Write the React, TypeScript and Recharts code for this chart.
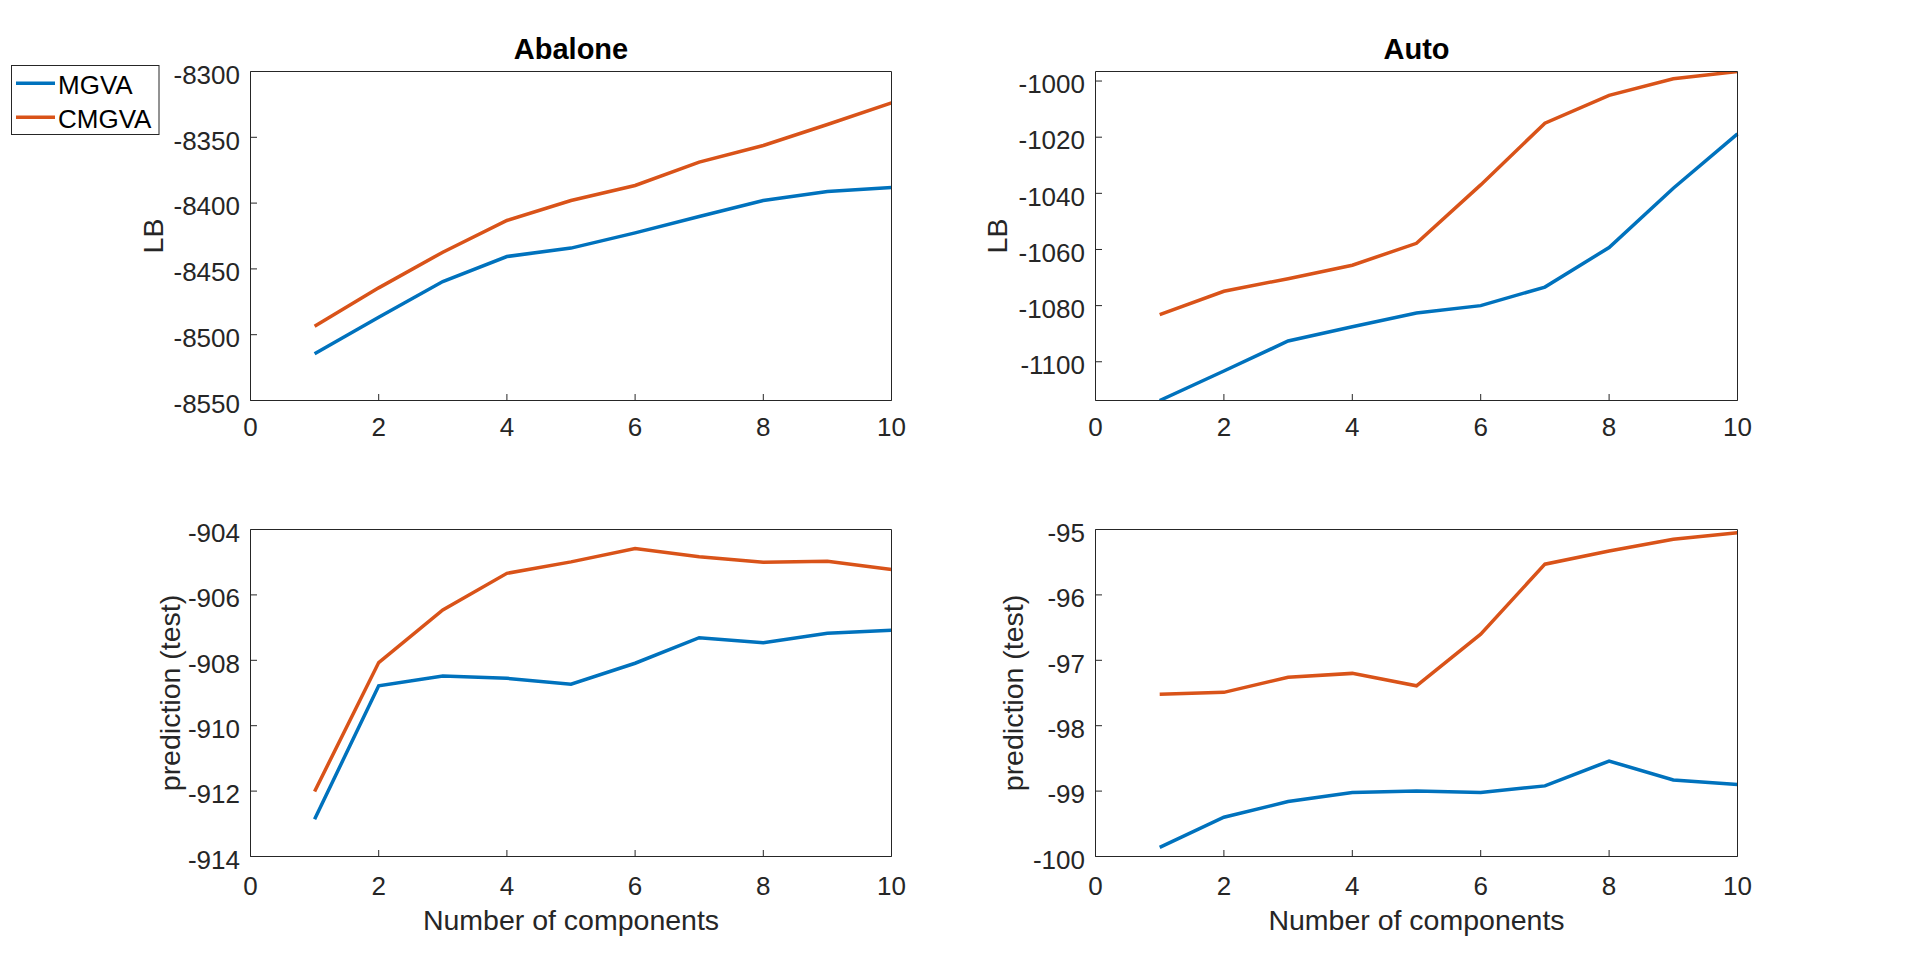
import React from 'react';
import { LineChart, Line, XAxis, YAxis } from 'recharts';

const components = [1, 2, 3, 4, 5, 6, 7, 8, 9, 10];
const xTicks = [0, 2, 4, 6, 8, 10];
const seriesNames = ['MGVA', 'CMGVA'];
const seriesColors = ['#0072BD', '#D95319'];

const abaloneLbMgva = [-8514.5, -8486.7, -8459.6, -8440.6, -8434.2, -8422.6, -8410.2, -8398.0, -8391.2, -8388.1];
const abaloneLbCmgva = [-8493.5, -8464.4, -8437.3, -8413.2, -8398.0, -8386.6, -8368.9, -8356.2, -8340.3, -8323.8];
const autoLbMgva = [-1113.8, -1103.3, -1092.6, -1087.5, -1082.6, -1080.0, -1073.4, -1059.3, -1038.2, -1018.8];
const autoLbCmgva = [-1083.2, -1074.9, -1070.4, -1065.6, -1057.8, -1037.0, -1015.0, -1005.1, -999.2, -996.6];
const abalonePredMgva = [-912.86, -908.78, -908.48, -908.55, -908.73, -908.09, -907.31, -907.46, -907.17, -907.08];
const abalonePredCmgva = [-912.01, -908.07, -906.46, -905.34, -904.99, -904.58, -904.83, -905.0, -904.97, -905.22];
const autoPredMgva = [-99.86, -99.4, -99.16, -99.02, -99.0, -99.02, -98.92, -98.54, -98.83, -98.9];
const autoPredCmgva = [-97.52, -97.49, -97.26, -97.2, -97.39, -96.6, -95.53, -95.33, -95.15, -95.05];

const abaloneLbTicks = [-8550, -8500, -8450, -8400, -8350, -8300];
const autoLbTicks = [-1100, -1080, -1060, -1040, -1020, -1000];
const abalonePredTicks = [-914, -912, -910, -908, -906, -904];
const autoPredTicks = [-100, -99, -98, -97, -96, -95];

const FONT = '"Liberation Sans", Arial, Helvetica, sans-serif';
const AX = '#262626';
const TICK = -6.5;
const LW = 3.5;

type PanelProps = {
  left: number;
  top: number;
  width: number;
  height: number;
  margin: { top: number; right: number; bottom: number; left: number };
  yAxisWidth: number;
  xAxisHeight: number;
  tickMarginX: number;
  a: number[];
  b: number[];
  yDomain: [number, number];
  yTicks: number[];
  title?: string;
  yLabel: string;
  xLabel?: string;
};

function Panel(p: PanelProps) {
  const series = [p.a, p.b];
  const data = components.map((c, i) => {
    const row: Record<string, number> = { x: c };
    seriesNames.forEach((n, k) => {
      row[n] = series[k][i];
    });
    return row;
  });
  return (
    <div style={{ position: 'absolute', left: p.left, top: p.top, width: p.width, height: p.height }}>
      <LineChart width={p.width} height={p.height} data={data} margin={p.margin}>
        <XAxis
          xAxisId="t"
          orientation="top"
          dataKey="x"
          type="number"
          domain={[0, 10]}
          ticks={xTicks}
          height={12.5}
          tick={false}
          tickSize={TICK}
          stroke={AX}
          label={
            p.title
              ? {
                  value: p.title,
                  position: 'top',
                  offset: 0,
                  style: { fontSize: 29, fontWeight: 'bold', fill: '#000', fontFamily: FONT },
                }
              : undefined
          }
        />
        <XAxis
          xAxisId="b"
          orientation="bottom"
          dataKey="x"
          type="number"
          domain={[0, 10]}
          ticks={xTicks}
          height={p.xAxisHeight}
          tickSize={TICK}
          tickMargin={p.tickMarginX}
          stroke={AX}
          tick={{ fontSize: 26, fill: AX, fontFamily: FONT }}
          label={
            p.xLabel
              ? {
                  value: p.xLabel,
                  position: 'bottom',
                  offset: 0,
                  style: { fontSize: 28.5, fill: AX, fontFamily: FONT },
                }
              : undefined
          }
        />
        <YAxis
          yAxisId="l"
          orientation="left"
          type="number"
          domain={p.yDomain}
          ticks={p.yTicks}
          width={p.yAxisWidth}
          tickSize={TICK}
          tickMargin={17}
          stroke={AX}
          allowDataOverflow
          tick={{ fontSize: 26, fill: AX, fontFamily: FONT, dy: 3 }}
          label={{
            value: p.yLabel,
            angle: -90,
            position: 'center',
            style: { fontSize: 28.5, fill: AX, fontFamily: FONT, textAnchor: 'middle' },
          }}
        />
        <YAxis
          yAxisId="r"
          orientation="right"
          type="number"
          domain={p.yDomain}
          ticks={p.yTicks}
          width={20}
          tickSize={TICK}
          tick={false}
          stroke={AX}
          allowDataOverflow
        />
        {seriesNames.map((n, k) => (
          <Line
            key={n}
            xAxisId="b"
            yAxisId="l"
            dataKey={n}
            type="linear"
            stroke={seriesColors[k]}
            strokeWidth={LW}
            dot={false}
            activeDot={false}
            isAnimationActive={false}
          />
        ))}
      </LineChart>
    </div>
  );
}

function LegendBox() {
  return (
    <svg
      width={149}
      height={70}
      style={{ position: 'absolute', left: 11, top: 64.5 }}
    >
      <rect x={0.5} y={0.5} width={147.5} height={69} fill="#fff" stroke={AX} strokeWidth={1} />
      {seriesNames.map((n, k) => (
        <g key={n}>
          <line x1={5} x2={44} y1={18.2 + k * 34} y2={18.2 + k * 34} stroke={seriesColors[k]} strokeWidth={LW} />
          <text x={47} y={28.8 + k * 34.3} fontSize={26} fontFamily={FONT} fill="#000">
            {n}
          </text>
        </g>
      ))}
    </svg>
  );
}

const autoLbDomain: [number, number] = [
  Math.min(...autoLbMgva, ...autoLbCmgva),
  Math.max(...autoLbMgva, ...autoLbCmgva),
];

export default function App() {
  return (
    <div style={{ position: 'absolute', left: 0, top: 0, width: 1920, height: 963, background: '#fff', overflow: 'hidden' }}>
      <Panel
        left={0}
        top={0}
        width={932}
        height={480}
        margin={{ top: 59, right: 20.5, bottom: 39.5, left: 54.5 }}
        yAxisWidth={196}
        xAxisHeight={40}
        tickMarginX={24}
        a={abaloneLbMgva}
        b={abaloneLbCmgva}
        yDomain={[-8550, -8300]}
        yTicks={abaloneLbTicks}
        title="Abalone"
        yLabel="LB"
      />
      <Panel
        left={880}
        top={0}
        width={898}
        height={480}
        margin={{ top: 59, right: 20.5, bottom: 39.5, left: 19 }}
        yAxisWidth={196.5}
        xAxisHeight={40}
        tickMarginX={24}
        a={autoLbMgva}
        b={autoLbCmgva}
        yDomain={autoLbDomain}
        yTicks={autoLbTicks}
        title="Auto"
        yLabel="LB"
      />
      <Panel
        left={0}
        top={480}
        width={932}
        height={483}
        margin={{ top: 37, right: 20.5, bottom: 53, left: 89.5 }}
        yAxisWidth={161}
        xAxisHeight={53.5}
        tickMarginX={26.5}
        a={abalonePredMgva}
        b={abalonePredCmgva}
        yDomain={[-914, -904]}
        yTicks={abalonePredTicks}
        yLabel="prediction (test)"
        xLabel="Number of components"
      />
      <Panel
        left={880}
        top={480}
        width={898}
        height={483}
        margin={{ top: 37, right: 20.5, bottom: 53, left: 50.5 }}
        yAxisWidth={165}
        xAxisHeight={53.5}
        tickMarginX={26.5}
        a={autoPredMgva}
        b={autoPredCmgva}
        yDomain={[-100, -95]}
        yTicks={autoPredTicks}
        yLabel="prediction (test)"
        xLabel="Number of components"
      />
      <LegendBox />
    </div>
  );
}
